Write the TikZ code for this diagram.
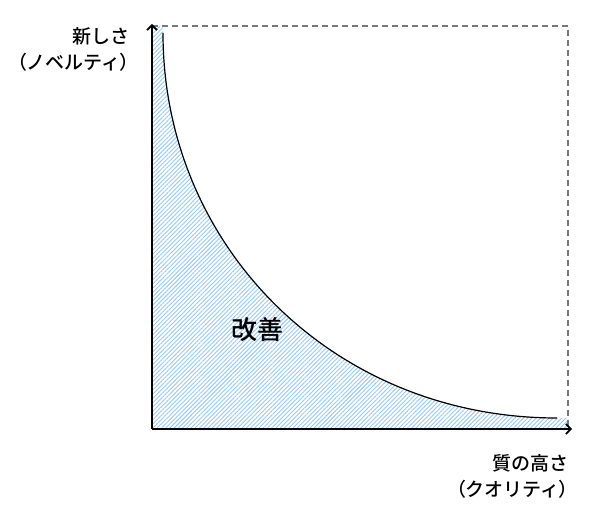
\documentclass[tikz,border=0pt]{standalone}
\usepackage{fontspec}
\setmainfont{Noto Sans CJK JP}[UprightFont=* Medium]
\usetikzlibrary{arrows.meta,patterns.meta}

% narrow full-width brackets
\newcommand{\lbrk}{{\addfontfeatures{RawFeature=+palt}（}}
\newcommand{\rbrk}{{\addfontfeatures{RawFeature=+palt}）}}

\definecolor{hatchblue}{RGB}{150,202,242}
\definecolor{boxgray}{RGB}{120,120,120}

\tikzset{
  axis/.style={line width=1.6pt, -{Straight Barb[length=5pt,width=10pt]}},
  limit/.style={boxgray, line width=1.2pt, dash pattern=on 6pt off 4pt},
  hatch/.style={pattern={Lines[angle=45,distance=3pt,line width=0.9pt]}, pattern color=hatchblue},
  axislabel/.style={align=right, font=\fontsize{19}{26}\selectfont, inner sep=0pt},
}

\begin{document}
\begin{tikzpicture}[x=1pt, y=1pt]
\useasboundingbox (-152,-101) rectangle (448,429);

% corners and ends of the trade-off curve
\coordinate (origin) at (0,0);
\coordinate (xend) at (420,0);
\coordinate (yend) at (0,405);
\coordinate (start) at (11,396);
\coordinate (stop) at (405,11);

% hatched area below the curve
\path[hatch] (origin) -- (0,403) -- (11,403) -- (start)
  .. controls (11,182) and (182,11) .. (stop) -- (416,11) -- (416,0) -- cycle;

% dashed limit box
\draw[limit] (0,403) -- (416,403) -- (416,0);

\draw[line width=1.2pt] (start) .. controls (11,182) and (182,11) .. (stop);

\draw[axis] (origin) -- (yend);
\draw[axis] (origin) -- (xend);

\node[axislabel, anchor=east] (novelty) at (-22,380) {新しさ\\\lbrk ノベルティ\rbrk};
\node[axislabel, anchor=east] (quality) at (417,-47) {質の高さ\\\lbrk クオリティ\rbrk};
\node[font=\fontsize{26}{26}\selectfont] (kaizen) at (105,99) {改善};

\end{tikzpicture}
\end{document}
